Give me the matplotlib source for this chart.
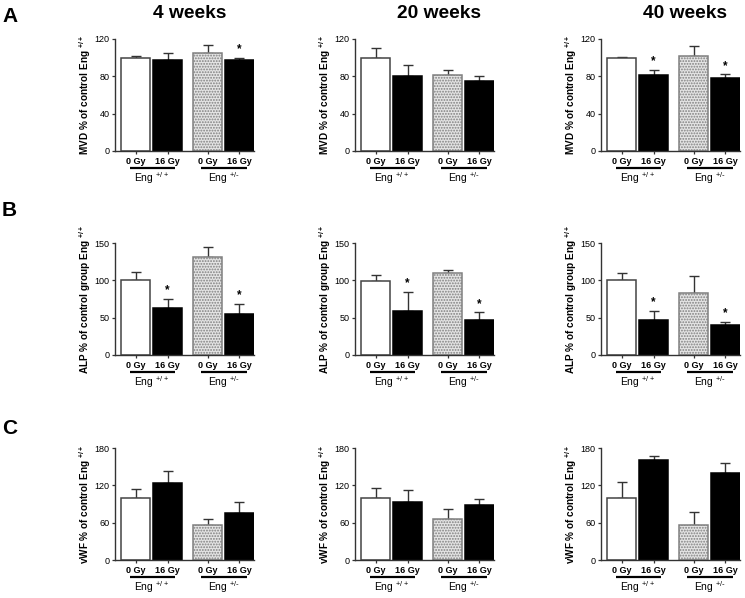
import numpy as np
import matplotlib
matplotlib.use('Agg')
import matplotlib.pyplot as plt
import matplotlib.transforms as mtransforms

plt.rcParams['font.family'] = ['Liberation Sans', 'DejaVu Sans']
plt.rcParams['mathtext.default'] = 'regular'
plt.rcParams['hatch.linewidth'] = 0.9

weeks = ['4 weeks', '20 weeks', '40 weeks']
doses = ['0 Gy', '16 Gy', '0 Gy', '16 Gy']
genotypes = ['Eng $^{+/+}$', 'Eng $^{+/\\text{-}}$']

# MVD (row A)
mvd_means = [[100, 97.5, 105.5, 97], [100, 80.5, 81.5, 75], [100, 81, 101.5, 78]]
mvd_errs = [[1.5, 7, 8.5, 3], [10, 11.5, 5, 5], [1, 5.5, 10.5, 4]]
mvd_sig = [[0, 0, 0, 1], [0, 0, 0, 0], [0, 1, 0, 1]]

# ALP (row B)
alp_means = [[100, 62.5, 131, 54.5], [99, 58.5, 109.5, 46.5], [100, 47.5, 83, 40.5]]
alp_errs = [[10.5, 12, 13.5, 14], [8.5, 25.5, 4, 10.5], [10, 11, 22.5, 3.5]]
alp_sig = [[0, 1, 0, 1], [0, 1, 0, 1], [0, 1, 0, 1]]

# vWF (row C)
vwf_means = [[100, 124.5, 57, 76], [100, 92.5, 66, 88], [100, 161, 57, 140]]
vwf_errs = [[14.5, 19, 9.5, 18], [16, 20.5, 16.5, 9.5], [25.5, 6, 20, 15.5]]
vwf_sig = [[0, 0, 0, 0], [0, 0, 0, 0], [0, 0, 0, 0]]

rows = [
    ('A', 'MVD % of control Eng $^{+/+}$', mvd_means, mvd_errs, mvd_sig, [0, 40, 80, 120]),
    ('B', 'ALP % of control group Eng $^{+/+}$', alp_means, alp_errs, alp_sig, [0, 50, 100, 150]),
    ('C', 'vWF % of control Eng $^{+/+}$', vwf_means, vwf_errs, vwf_sig, [0, 60, 120, 180]),
]

W, H = 745, 598
fig = plt.figure(figsize=(7.45, 5.98), dpi=100)

pos = np.array([0, 1, 2.27, 3.27])
col_left = [115, 355, 601]
row_bottom = [151, 355, 560]
ax_w, ax_h = 139, 112

faces = ['white', 'black', '#e4e4e4', 'black']
edges = ['#444444', 'black', '#808080', 'black']
hatches = [None, None, '......', None]

for r, (letter, ylab, means, errs, sig, yt) in enumerate(rows):
    fig.text(2 / W, 1 - [16, 210, 428][r] / H, letter, fontsize=15, fontweight='bold',
             ha='left', va='center')
    for c in range(3):
        ax = fig.add_axes([col_left[c] / W, 1 - row_bottom[r] / H, ax_w / W, ax_h / H])
        for i in range(4):
            ax.bar(pos[i], means[c][i], width=0.91, color=faces[i], edgecolor=edges[i],
                   hatch=hatches[i], linewidth=1.1, zorder=2)
        ax.errorbar(pos, means[c], yerr=[np.zeros(4), errs[c]], fmt='none',
                    ecolor='#333333', elinewidth=1, capsize=3.5, capthick=1, zorder=1)
        for i in range(4):
            if sig[c][i]:
                ax.annotate('*', (pos[i], means[c][i] + errs[c][i]), xytext=(0, 2),
                            textcoords='offset points', ha='center', va='bottom',
                            fontsize=8.5, fontweight='bold')
        ax.set_xlim(-0.66, 3.73)
        ax.set_ylim(0, yt[-1])
        ax.set_yticks(yt)
        ax.set_xticks(pos)
        ax.set_xticklabels(doses, fontweight='bold')
        ax.tick_params(axis='both', labelsize=6.5, length=2.5, width=0.9, pad=1.5,
                       color='#333333')
        for s in ['top', 'right']:
            ax.spines[s].set_visible(False)
        for s in ['left', 'bottom']:
            ax.spines[s].set_color('#333333')
            ax.spines[s].set_linewidth(1)
        ax.set_ylabel(ylab, fontsize=7.2, fontweight='bold')
        ax.yaxis.set_label_coords(-0.155, 0.5)

        trans = mtransforms.blended_transform_factory(ax.transData, ax.transAxes)
        for g in range(2):
            x0 = pos[2 * g]
            ax.plot([x0 - 0.2, x0 + 1.25], [-0.152, -0.152], color='black', lw=1.6,
                    transform=trans, clip_on=False, solid_capstyle='butt')
            ax.text(x0 + 0.5, -0.245, genotypes[g], transform=trans, ha='center',
                    va='center', fontsize=7.5)

        if r == 0:
            fig.text([190, 439, 685][c] / W, 1 - 13 / H, weeks[c], fontsize=13.8,
                     fontweight='bold', ha='center', va='center')

fig.savefig('out.png', dpi=100)
